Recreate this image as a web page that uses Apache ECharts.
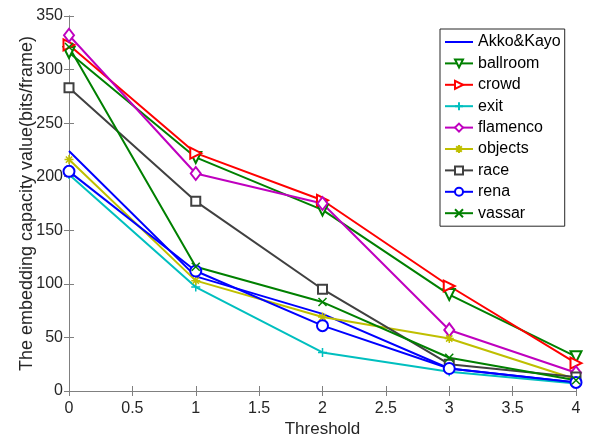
<!DOCTYPE html>
<html>
<head>
<meta charset="utf-8">
<script src="https://cdn.jsdelivr.net/npm/echarts@6/dist/echarts.min.js"></script>
<style>
  html, body { margin: 0; padding: 0; background: #fff; }
  #main { width: 596px; height: 438px; }
</style>
</head>
<body>
<div id="main"></div>
<script>
// threshold values on the x axis
let thresholds = [0, 1, 2, 3, 4];

// embedding capacity per sequence (bits/frame)
let akkoKayo = [224, 107, 72, 21, 8];
let ballroom = [316, 218, 169, 90, 32];
let crowd    = [323, 222, 178, 98, 26];
let exitSeq  = [202, 97, 36, 18, 7];
let flamenco = [332, 203, 175, 57, 17];
let objects  = [216, 103, 69, 49, 11];
let race     = [283, 177, 95, 25, 13];
let rena     = [205, 112, 61, 21, 8];
let vassar   = [321, 116, 83, 31, 10];

let names = ['Akko&Kayo', 'ballroom', 'crowd', 'exit', 'flamenco', 'objects', 'race', 'rena', 'vassar'];
let values = [akkoKayo, ballroom, crowd, exitSeq, flamenco, objects, race, rena, vassar];
let colors = ['#0000ff', '#008000', '#ff0000', '#00bfbf', '#bf00bf', '#bfbf00', '#404040', '#0000ff', '#008000'];

let plus = 'path://M5,0L5,10M0,5L10,5';
let cross = 'path://M0,0L10,10M10,0L0,10';
let star = 'path://M5,0L5,10M0,5L10,5M1.5,1.5L8.5,8.5M8.5,1.5L1.5,8.5';

let markers = [
  {symbol: 'none'},
  {symbol: 'emptyTriangle', symbolSize: 11, symbolRotate: 180},
  {symbol: 'emptyTriangle', symbolSize: 11, symbolRotate: -90},
  {symbol: plus, symbolSize: 9},
  {symbol: 'emptyDiamond', symbolSize: [10, 13]},
  {symbol: star, symbolSize: 9},
  {symbol: 'emptyRect', symbolSize: 9},
  {symbol: 'emptyCircle', symbolSize: 11},
  {symbol: cross, symbolSize: 8}
];

let fontFamily = '"Liberation Sans", Arial, sans-serif';
let axisColor = '#808080';
let textColor = '#262626';

let series = names.map(function (name, i) {
  let m = markers[i];
  return {
    name: name,
    type: 'line',
    data: thresholds.map(function (t, j) { return [t, values[i][j]]; }),
    symbol: m.symbol,
    symbolSize: m.symbolSize || 8,
    symbolRotate: m.symbolRotate || 0,
    showAllSymbol: true,
    color: colors[i],
    lineStyle: {width: 2, color: colors[i]},
    itemStyle: {color: colors[i], borderColor: colors[i], borderWidth: 1.5},
    emphasis: {disabled: true},
    animation: false
  };
});

// legend entries; the first series has no marker, so hide its legend symbol
let legendData = names.map(function (name, i) {
  if (i === 0) {
    return {name: name, itemStyle: {opacity: 0}};
  }
  return {name: name};
});

let option = {
  backgroundColor: '#fff',
  animation: false,
  textStyle: {fontFamily: fontFamily},
  grid: {left: 69, right: 20, top: 16, bottom: 47, outerBoundsMode: 'none', containLabel: false},
  legend: {
    orient: 'vertical',
    left: 440,
    top: 29,
    backgroundColor: '#fff',
    borderColor: '#262626',
    borderWidth: 1,
    padding: [5, 4, 5, 4],
    itemGap: 5.4,
    itemWidth: 28,
    itemHeight: 10,
    textStyle: {fontSize: 16, color: '#000', fontFamily: fontFamily},
    data: legendData
  },
  xAxis: [
    {
      type: 'value',
      min: 0,
      max: 4,
      interval: 0.5,
      name: 'Threshold',
      nameLocation: 'middle',
      nameGap: 29.5,
      nameMoveOverlap: false,
      nameTextStyle: {fontSize: 17, color: textColor},
      axisLine: {show: true, lineStyle: {color: axisColor}},
      axisTick: {inside: true, length: 5, lineStyle: {color: axisColor}},
      axisLabel: {fontSize: 16, color: textColor, margin: 10},
      splitLine: {show: false}
    },
    {
      type: 'value',
      position: 'top',
      min: 0,
      max: 4,
      interval: 0.5,
      axisLine: {show: true, lineStyle: {color: axisColor}},
      axisTick: {inside: true, length: 5, lineStyle: {color: axisColor}},
      axisLabel: {show: false},
      splitLine: {show: false}
    }
  ],
  yAxis: [
    {
      type: 'value',
      min: 0,
      max: 350,
      interval: 50,
      name: 'The embedding capacity value(bits/frame)',
      nameLocation: 'middle',
      nameRotate: 90,
      nameGap: 33,
      nameMoveOverlap: false,
      nameTextStyle: {fontSize: 18, color: textColor},
      axisLine: {show: true, lineStyle: {color: axisColor}},
      axisTick: {show: true, inside: true, length: 5, lineStyle: {color: axisColor}},
      axisLabel: {fontSize: 16, color: textColor, margin: 6},
      splitLine: {show: false}
    },
    {
      type: 'value',
      position: 'right',
      min: 0,
      max: 350,
      interval: 50,
      axisLine: {show: true, lineStyle: {color: axisColor}},
      axisTick: {show: true, inside: true, length: 5, lineStyle: {color: axisColor}},
      axisLabel: {show: false},
      splitLine: {show: false}
    }
  ],
  series: series
};

let myChart = echarts.init(document.getElementById('main'));
myChart.setOption(option);
</script>
</body>
</html>
